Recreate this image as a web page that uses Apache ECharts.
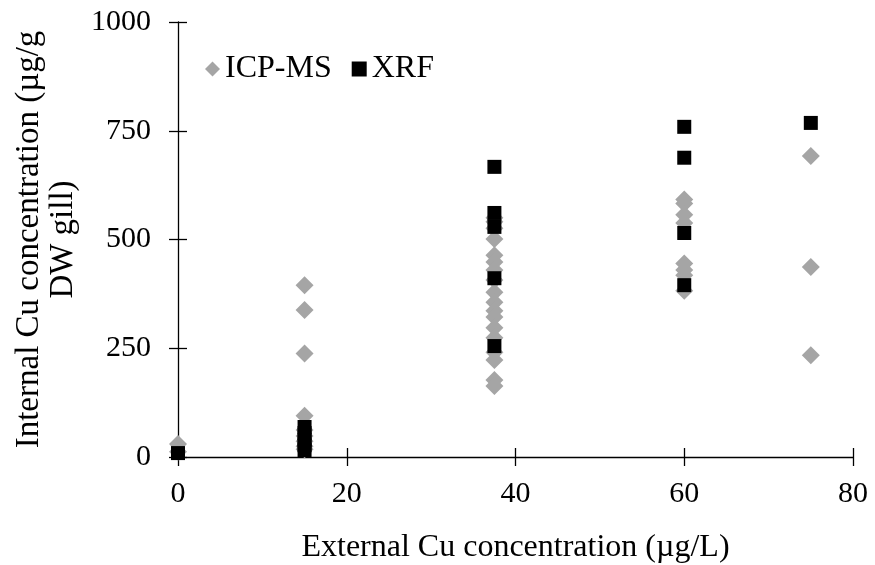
<!DOCTYPE html>
<html>
<head>
<meta charset="utf-8">
<script src="https://cdn.jsdelivr.net/npm/echarts@6/dist/echarts.min.js"></script>
<style>html,body{margin:0;padding:0;background:#fff}#c{width:875px;height:565px}</style>
</head>
<body>
<div id="c"></div>
<script>
// External Cu concentration (µg/L) per sample, internal Cu (µg/g DW gill)
const icpX = [0, 0, 15, 15, 15, 15, 15, 15, 15, 15, 15,
  37.5, 37.5, 37.5, 37.5, 37.5, 37.5, 37.5, 37.5, 37.5, 37.5, 37.5, 37.5, 37.5, 37.5, 37.5, 37.5, 37.5, 37.5,
  60, 60, 60, 60, 60, 60, 60, 60,
  75, 75, 75];
const icpY = [30, 12, 395, 338, 238, 95, 62, 48, 36, 25, 18,
  550, 541, 526, 501, 464, 448, 430, 407, 379, 356, 336, 322, 297, 274, 241, 223, 177, 163,
  592, 583, 557, 538, 445, 430, 418, 382,
  692, 437, 234];
const xrfX = [0, 15, 15, 15, 15, 15, 37.5, 37.5, 37.5, 37.5, 37.5, 60, 60, 60, 60, 75];
const xrfY = [9, 69, 55, 40, 27, 16, 667, 561, 529, 411, 255, 759, 688, 515, 395, 768];
const seriesNames = ['ICP-MS', 'XRF'];
const xTitle = 'External Cu concentration (µg/L)';
const yTitle = 'Internal Cu concentration (µg/g\nDW gill)';

const pair = (xs, ys) => xs.map((x, i) => [x, ys[i]]);
const font = 'Liberation Serif';
const tickStyle = { color: '#000', width: 1.3 };
const axisLine = { show: true, lineStyle: tickStyle };

const chart = echarts.init(document.getElementById('c'), null, { renderer: 'canvas' });
chart.setOption({
  animation: false,
  backgroundColor: '#fff',
  textStyle: { fontFamily: font },
  grid: { left: 178, right: 22, top: 22, bottom: 108, containLabel: false, outerBoundsMode: 'none' },
  legend: {
    data: seriesNames,
    left: 200, top: 48,
    itemWidth: 15, itemHeight: 15, itemGap: 20,
    textStyle: { fontFamily: font, fontSize: 32, color: '#000' }
  },
  xAxis: [{
    type: 'value', min: 0, max: 80, interval: 20, position: 'bottom',
    name: xTitle, nameLocation: 'middle', nameGap: 75,
    nameTextStyle: { fontFamily: font, fontSize: 32, color: '#000' },
    axisLine: axisLine,
    axisTick: { show: false },
    axisLabel: { fontFamily: font, fontSize: 30, color: '#000', margin: 22 },
    splitLine: { show: false }
  }, {
    type: 'value', min: 0, max: 80, interval: 20, position: 'bottom', offset: -9,
    axisLine: { show: false },
    axisTick: { show: true, inside: false, length: 18, lineStyle: tickStyle },
    axisLabel: { show: false }, splitLine: { show: false }
  }],
  yAxis: [{
    type: 'value', min: 0, max: 1000, interval: 250, position: 'left',
    name: yTitle, nameLocation: 'middle', nameGap: 98, nameRotate: 90,
    nameTextStyle: { fontFamily: font, fontSize: 33, color: '#000', lineHeight: 34, align: 'center' },
    axisLine: axisLine,
    axisTick: { show: false },
    axisLabel: { fontFamily: font, fontSize: 30, color: '#000', margin: 27, formatter: v => String(v) },
    splitLine: { show: false }
  }, {
    type: 'value', min: 0, max: 1000, interval: 250, position: 'left', offset: -9,
    axisLine: { show: false },
    axisTick: { show: true, inside: false, length: 18, lineStyle: tickStyle },
    axisLabel: { show: false }, splitLine: { show: false }
  }],
  series: [{
    name: seriesNames[0], type: 'scatter', xAxisIndex: 0, yAxisIndex: 0,
    symbol: 'diamond', symbolSize: 18,
    itemStyle: { color: '#a5a5a5', opacity: 1 },
    data: pair(icpX, icpY)
  }, {
    name: seriesNames[1], type: 'scatter', xAxisIndex: 0, yAxisIndex: 0,
    symbol: 'rect', symbolSize: 14,
    itemStyle: { color: '#000', opacity: 1 },
    data: pair(xrfX, xrfY)
  }]
});
</script>
</body>
</html>
